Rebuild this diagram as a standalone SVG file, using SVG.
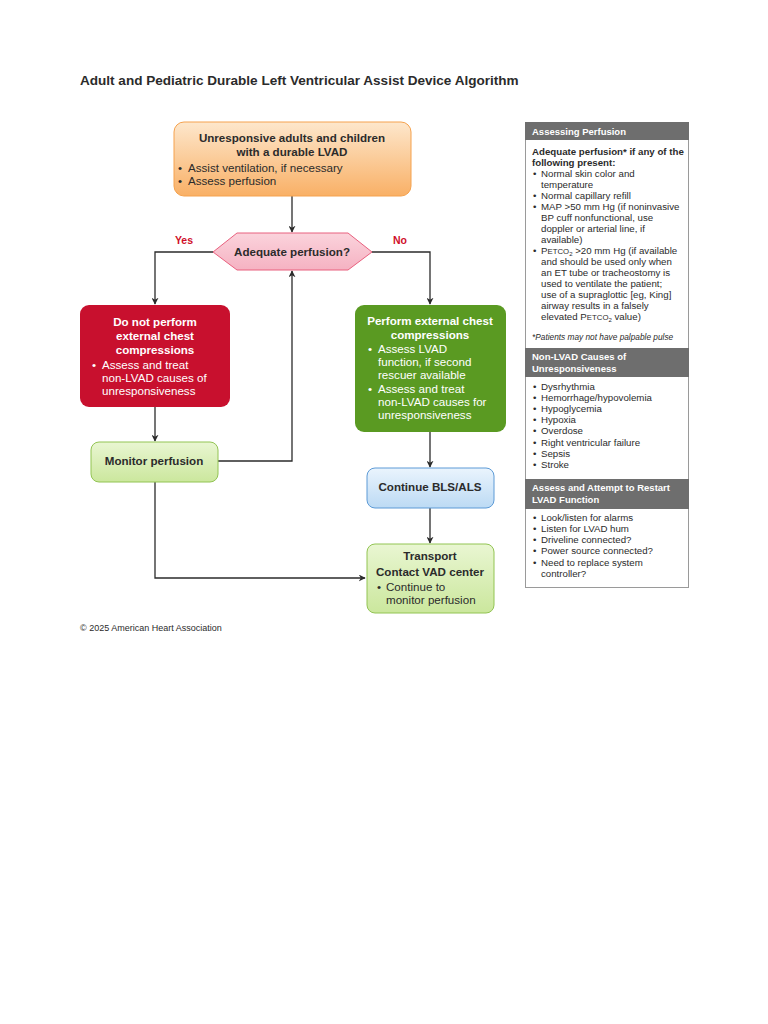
<svg xmlns="http://www.w3.org/2000/svg" width="768" height="1024" viewBox="0 0 768 1024">
<style>
text{font-family:"Liberation Sans",Arial,sans-serif;fill:#2b2b2b}
.b{font-weight:bold}
.t{font-size:11.6px}
.w{fill:#ffffff}
.lbl{font-size:10.5px;font-weight:bold;fill:#d0102a}
.p{font-size:9.7px;fill:#2b2b2b}
.ph{font-size:9.5px;font-weight:bold;fill:#ffffff}
.conn{fill:none;stroke:#2b2b2b;stroke-width:1.3}
.sc{font-size:7.8px}
</style>
<defs>
<marker id="ah" viewBox="0 0 10 10" refX="9" refY="5" markerWidth="7" markerHeight="7" orient="auto" markerUnits="userSpaceOnUse">
<path d="M0,0 L10,5 L0,10 L3,5 Z" fill="#2b2b2b"/>
</marker>
<linearGradient id="gOr" x1="0" y1="0" x2="0" y2="1"><stop offset="0" stop-color="#fde7cc"/><stop offset="1" stop-color="#f9b066"/></linearGradient>
<linearGradient id="gPk" x1="0" y1="0" x2="0" y2="1"><stop offset="0" stop-color="#fbd3dc"/><stop offset="1" stop-color="#f5b2c2"/></linearGradient>
<linearGradient id="gGr" x1="0" y1="0" x2="0" y2="1"><stop offset="0" stop-color="#e9f6d2"/><stop offset="1" stop-color="#cbe79d"/></linearGradient>
<linearGradient id="gBl" x1="0" y1="0" x2="0" y2="1"><stop offset="0" stop-color="#eaf4fd"/><stop offset="1" stop-color="#bcdaf4"/></linearGradient>
</defs>
<rect width="768" height="1024" fill="#ffffff"/>

<text x="80" y="85" class="b" style="font-size:13.55px">Adult and Pediatric Durable Left Ventricular Assist Device Algorithm</text>

<g id="connectors">
<line class="conn" x1="292" y1="196" x2="292" y2="232" marker-end="url(#ah)"/>
<polyline class="conn" points="213,252 155,252 155,304" marker-end="url(#ah)"/>
<polyline class="conn" points="372,252 430,252 430,304" marker-end="url(#ah)"/>
<line class="conn" x1="155" y1="407" x2="155" y2="441" marker-end="url(#ah)"/>
<polyline class="conn" points="218,461 292,461 292,271" marker-end="url(#ah)"/>
<line class="conn" x1="430" y1="432" x2="430" y2="467" marker-end="url(#ah)"/>
<line class="conn" x1="430" y1="508" x2="430" y2="543" marker-end="url(#ah)"/>
<polyline class="conn" points="155,482 155,578 365,578" marker-end="url(#ah)"/>
<text x="184" y="244" class="lbl" text-anchor="middle">Yes</text>
<text x="400" y="244" class="lbl" text-anchor="middle">No</text>
</g>

<g id="start">
<rect x="174" y="122" width="237" height="74" rx="10" fill="url(#gOr)" stroke="#f5a24e" stroke-width="1"/>
<text x="292" y="142" class="t b" text-anchor="middle">Unresponsive adults and children</text>
<text x="292" y="156" class="t b" text-anchor="middle">with a durable LVAD</text>
<text x="178" y="172" class="t">•</text>
<text x="188" y="172" class="t">Assist ventilation, if necessary</text>
<text x="178" y="185" class="t">•</text>
<text x="188" y="185" class="t">Assess perfusion</text>
</g>

<g id="decision">
<polygon points="213,252 237,233 348,233 372,252 348,270 237,270" fill="url(#gPk)" stroke="#e8607e" stroke-width="1"/>
<text x="292" y="256" class="t b" text-anchor="middle">Adequate perfusion?</text>
</g>

<g id="noCompressions">
<rect x="80" y="305" width="150" height="102" rx="9" fill="#c8102e"/>
<text x="155" y="326" class="t b w" text-anchor="middle">Do not perform</text>
<text x="155" y="340" class="t b w" text-anchor="middle">external chest</text>
<text x="155" y="354" class="t b w" text-anchor="middle">compressions</text>
<text x="92" y="369" class="t w">•</text>
<text x="102" y="369" class="t w">Assess and treat</text>
<text x="102" y="382" class="t w">non-LVAD causes of</text>
<text x="102" y="395" class="t w">unresponsiveness</text>
</g>

<g id="compressions">
<rect x="355" y="305" width="151" height="127" rx="9" fill="#5a9a22"/>
<text x="430" y="325" class="t b w" text-anchor="middle">Perform external chest</text>
<text x="430" y="339" class="t b w" text-anchor="middle">compressions</text>
<text x="368" y="353" class="t w">•</text>
<text x="378" y="353" class="t w">Assess LVAD</text>
<text x="378" y="366" class="t w">function, if second</text>
<text x="378" y="379" class="t w">rescuer available</text>
<text x="368" y="393" class="t w">•</text>
<text x="378" y="393" class="t w">Assess and treat</text>
<text x="378" y="406" class="t w">non-LVAD causes for</text>
<text x="378" y="419" class="t w">unresponsiveness</text>
</g>

<g id="monitor">
<rect x="91" y="442" width="127" height="40" rx="8" fill="url(#gGr)" stroke="#92c453" stroke-width="1"/>
<text x="154" y="465" class="t b" text-anchor="middle">Monitor perfusion</text>
</g>

<g id="continue">
<rect x="367" y="468" width="127" height="40" rx="8" fill="url(#gBl)" stroke="#5c9ad6" stroke-width="1"/>
<text x="430" y="491" class="t b" text-anchor="middle">Continue BLS/ALS</text>
</g>

<g id="transport">
<rect x="367" y="544" width="127" height="69" rx="8" fill="url(#gGr)" stroke="#92c453" stroke-width="1"/>
<text x="430" y="560" class="t b" text-anchor="middle">Transport</text>
<text x="430" y="576" class="t b" text-anchor="middle">Contact VAD center</text>
<text x="377" y="591" class="t">•</text>
<text x="386" y="591" class="t">Continue to</text>
<text x="386" y="604" class="t">monitor perfusion</text>
</g>

<text x="80" y="631" style="font-size:9px">© 2025 American Heart Association</text>

<g id="sidePanel">
<rect x="525.5" y="122.5" width="163" height="465" fill="#ffffff" stroke="#9a9a9a" stroke-width="1"/>
<rect x="525" y="122" width="164" height="18" fill="#6e6e6e"/>
<text x="532" y="134.5" class="ph">Assessing Perfusion</text>
<text x="532" y="155" class="p b">Adequate perfusion* if any of the</text>
<text x="532" y="166" class="p b">following present:</text>
<text x="533" y="177" class="p">•</text><text x="541" y="177" class="p">Normal skin color and</text>
<text x="541" y="188" class="p">temperature</text>
<text x="533" y="199" class="p">•</text><text x="541" y="199" class="p">Normal capillary refill</text>
<text x="533" y="210" class="p">•</text><text x="541" y="210" class="p">MAP &gt;50 mm Hg (if noninvasive</text>
<text x="541" y="221" class="p">BP cuff nonfunctional, use</text>
<text x="541" y="232" class="p">doppler or arterial line, if</text>
<text x="541" y="243" class="p">available)</text>
<text x="533" y="254" class="p">•</text><text x="541" y="254" class="p">P<tspan class="sc">ETCO</tspan><tspan class="sc" dy="2" style="font-size:6px">2</tspan><tspan dy="-2"> &gt;20 mm Hg (if available</tspan></text>
<text x="541" y="265" class="p">and should be used only when</text>
<text x="541" y="276" class="p">an ET tube or tracheostomy is</text>
<text x="541" y="287" class="p">used to ventilate the patient;</text>
<text x="541" y="298" class="p">use of a supraglottic [eg, King]</text>
<text x="541" y="309" class="p">airway results in a falsely</text>
<text x="541" y="320" class="p">elevated P<tspan class="sc">ETCO</tspan><tspan class="sc" dy="2" style="font-size:6px">2</tspan><tspan dy="-2"> value)</tspan></text>
<text x="532" y="340" class="p" style="font-style:italic;font-size:8.3px">*Patients may not have palpable pulse</text>
<rect x="525" y="348" width="164" height="29" fill="#6e6e6e"/>
<text x="532" y="360" class="ph">Non-LVAD Causes of</text>
<text x="532" y="372" class="ph">Unresponsiveness</text>
<text x="533" y="390" class="p">•</text><text x="541" y="390" class="p">Dysrhythmia</text>
<text x="533" y="401" class="p">•</text><text x="541" y="401" class="p">Hemorrhage/hypovolemia</text>
<text x="533" y="412" class="p">•</text><text x="541" y="412" class="p">Hypoglycemia</text>
<text x="533" y="423" class="p">•</text><text x="541" y="423" class="p">Hypoxia</text>
<text x="533" y="434" class="p">•</text><text x="541" y="434" class="p">Overdose</text>
<text x="533" y="446" class="p">•</text><text x="541" y="446" class="p">Right ventricular failure</text>
<text x="533" y="457" class="p">•</text><text x="541" y="457" class="p">Sepsis</text>
<text x="533" y="468" class="p">•</text><text x="541" y="468" class="p">Stroke</text>
<rect x="525" y="479" width="164" height="30" fill="#6e6e6e"/>
<text x="532" y="491" class="ph">Assess and Attempt to Restart</text>
<text x="532" y="503" class="ph">LVAD Function</text>
<text x="533" y="521" class="p">•</text><text x="541" y="521" class="p">Look/listen for alarms</text>
<text x="533" y="532" class="p">•</text><text x="541" y="532" class="p">Listen for LVAD hum</text>
<text x="533" y="543" class="p">•</text><text x="541" y="543" class="p">Driveline connected?</text>
<text x="533" y="554" class="p">•</text><text x="541" y="554" class="p">Power source connected?</text>
<text x="533" y="566" class="p">•</text><text x="541" y="566" class="p">Need to replace system</text>
<text x="541" y="577" class="p">controller?</text>
</g>
</svg>
